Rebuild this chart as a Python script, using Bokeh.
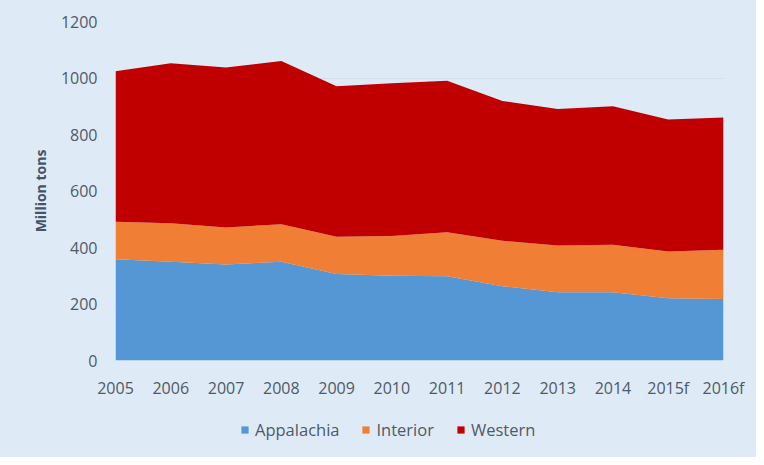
from bokeh.plotting import figure
from bokeh.models import ColumnDataSource, Legend, LegendItem, FixedTicker, Range1d
from bokeh.layouts import column
from bokeh.embed import file_html
from bokeh.resources import INLINE

years = ["2005", "2006", "2007", "2008", "2009", "2010", "2011", "2012", "2013", "2014", "2015f", "2016f"]
appalachia = [358, 350, 340, 350, 306, 300, 298, 263, 242, 242, 220, 218]
interior = [133, 136, 131, 132, 132, 141, 156, 161, 165, 168, 166, 174]
western = [533, 566, 566, 578, 533, 540, 536, 495, 483, 490, 467, 468]
series = ["Appalachia", "Interior", "Western"]
colors = ["#5596D4", "#F07F35", "#C00000"]
y_ticks = [0, 200, 400, 600, 800, 1000, 1200]

xs = list(range(len(years)))
source = ColumnDataSource(dict(x=xs, Appalachia=appalachia, Interior=interior, Western=western))

BG = "#DEEBF7"
TXT = "#4f5968"

p = figure(width=756, height=407, output_backend="svg", toolbar_location=None,
           x_range=Range1d(0, len(years) - 1), y_range=Range1d(0, 1200),
           min_border_left=115, min_border_right=33, min_border_top=21, min_border_bottom=47)
p.background_fill_color = BG
p.border_fill_color = BG
p.outline_line_color = None

p.varea_stack(series, x="x", source=source, color=colors)

p.xgrid.grid_line_color = None
p.ygrid.grid_line_color = "#cfd9e5"
p.ygrid.grid_line_alpha = 0.6
p.ygrid.ticker = FixedTicker(ticks=y_ticks)

for ax in (p.xaxis, p.yaxis):
    ax.axis_line_color = None
    ax.major_tick_line_color = None
    ax.minor_tick_line_color = None
    ax.major_tick_out = 0
    ax.major_tick_in = 0
    ax.major_label_text_font = "Open Sans"
    ax.major_label_text_font_size = "16px"
    ax.major_label_text_color = TXT

p.yaxis.ticker = FixedTicker(ticks=y_ticks)
p.yaxis.major_label_standoff = 18
p.yaxis.axis_label = "Million tons"
p.yaxis.axis_label_text_font = "Open Sans"
p.yaxis.axis_label_text_font_size = "14px"
p.yaxis.axis_label_text_font_style = "bold"
p.yaxis.axis_label_text_color = "#44546A"
p.yaxis.axis_label_standoff = 8

p.xaxis.ticker = FixedTicker(ticks=xs)
p.xaxis.major_label_overrides = {i: y for i, y in enumerate(years)}
p.xaxis.major_label_standoff = 16

# legend strip below the chart (same data, drawn out of view so only the legend shows)
lf = figure(width=756, height=50, output_backend="svg", toolbar_location=None,
            x_range=Range1d(0, 1), y_range=Range1d(-2, -1),
            x_axis_type=None, y_axis_type=None,
            min_border_left=0, min_border_right=0, min_border_top=0, min_border_bottom=0)
lf.background_fill_color = BG
lf.border_fill_color = BG
lf.outline_line_color = None
lf.grid.visible = False
lrs = lf.varea_stack(series, x="x", source=source, color=colors)

legend = Legend(items=[LegendItem(label=n, renderers=[r]) for n, r in zip(series, lrs)],
                orientation="horizontal", location=(125, 16))
legend.background_fill_alpha = 0
legend.border_line_color = None
legend.label_text_font = "Open Sans"
legend.label_text_font_size = "16.5px"
legend.label_text_color = TXT
legend.glyph_width = 9
legend.glyph_height = 9
legend.label_standoff = 6
legend.spacing = 22
legend.margin = 0
legend.padding = 4
lf.add_layout(legend, "center")

layout = column(p, lf, spacing=0, styles={"background-color": BG})
open("out.html", "w").write(file_html(layout, INLINE))
